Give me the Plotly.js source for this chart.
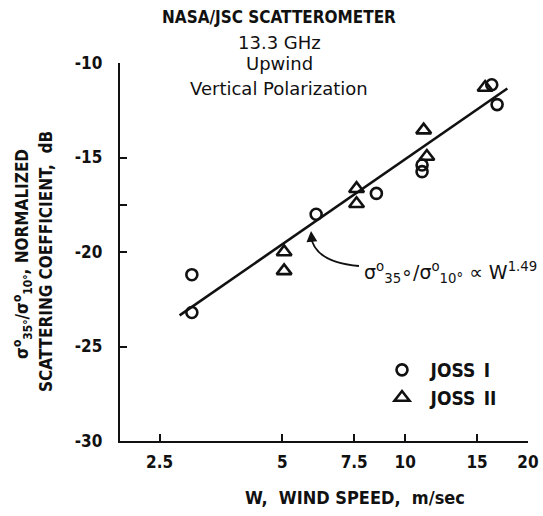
<!DOCTYPE html>
<html>
<head>
<meta charset="utf-8">
<script src="https://cdn.plot.ly/plotly-3.0.1.min.js"></script>
<style>
  html, body { margin: 0; padding: 0; background: #fff; }
  #chart { width: 543px; height: 516px; }
</style>
</head>
<body>
<div id="chart"></div>
<script>
// Wind speed (m/sec) and normalized scattering coefficient ratio (dB)
const joss1W = [3.0, 3.0, 6.05, 8.5, 11.0, 11.0, 16.3, 16.8];
const joss1S = [-21.2, -23.2, -18.0, -16.9, -15.4, -15.75, -11.15, -12.2];
const joss2W = [5.05, 5.05, 7.6, 7.6, 11.1, 11.3, 15.7];
const joss2S = [-20.0, -21.0, -16.65, -17.45, -13.55, -14.95, -11.3];

// Power-law fit, sigma35/sigma10 ~ W^1.49 (end points of the drawn line)
const fitW = [2.8, 17.8];
const fitS = [-23.35, -11.35];

const xTickVals = [2.5, 5, 7.5, 10, 15, 20];
const xTickText = ['2.5', '5', '7.5', '10', '15', '20'];
const yTickVals = [-30, -25, -20, -17.5, -15, -10];
const yTickText = ['-30', '-25', '-20', '', '-15', '-10'];

const COND = 'DejaVu Sans Condensed, DejaVu Sans, sans-serif';
const WIDE = 'DejaVu Sans, sans-serif';
const INK = '#111';

const traces = [
  {
    x: fitW, y: fitS, type: 'scatter', mode: 'lines',
    line: { color: INK, width: 2.6 },
    showlegend: false, hoverinfo: 'skip'
  },
  {
    x: joss1W, y: joss1S, type: 'scatter', mode: 'markers',
    name: '\u2002JOSS\u2002I', legendgroup: 'a',
    marker: { symbol: 'circle-open', size: 11, color: INK, line: { width: 2.6, color: INK } }
  },
  {
    x: joss2W, y: joss2S, type: 'scatter', mode: 'markers',
    name: '\u2002JOSS\u2002II', legendgroup: 'b',
    marker: { symbol: 'triangle-up-open', size: 13, color: INK, line: { width: 2.6, color: INK } }
  }
];

// paper-coordinate helpers for the plot box (120..528 px wide, 63..441 px tall)
const px = v => (v - 120) / 408;
const py = v => (441 - v) / 378;

const titleLines = [
  ['NASA/JSC SCATTEROMETER', 17, { family: COND, size: 17, weight: 'bold', color: INK }],
  ['13.3 GHz', 43, { family: WIDE, size: 18, color: INK }],
  ['Upwind', 63, { family: WIDE, size: 18, color: INK }],
  ['Vertical Polarization', 88, { family: WIDE, size: 18, color: INK }]
];

const annotations = titleLines.map(([t, y, f]) => ({
  text: t, xref: 'paper', yref: 'paper', x: px(279), y: py(y),
  xanchor: 'center', yanchor: 'middle', showarrow: false, font: f
}));

annotations.push(
  {
    text: 'W,  WIND SPEED,  m/sec', xref: 'paper', yref: 'paper',
    x: px(355), y: py(498), xanchor: 'center', yanchor: 'middle', showarrow: false,
    font: { family: COND, size: 18, weight: 'bold', color: INK }
  },
  {
    text: 'σ<sup>o</sup><sub>35°</sub>/σ<sup>o</sup><sub>10°</sub>, NORMALIZED',
    xref: 'paper', yref: 'paper', x: px(22), y: py(254), textangle: -90,
    xanchor: 'center', yanchor: 'middle', showarrow: false,
    font: { family: COND, size: 17, weight: 'bold', color: INK }
  },
  {
    text: 'SCATTERING COEFFICIENT,  dB',
    xref: 'paper', yref: 'paper', x: px(46), y: py(262), textangle: -90,
    xanchor: 'center', yanchor: 'middle', showarrow: false,
    font: { family: COND, size: 17, weight: 'bold', color: INK }
  },
  {
    text: 'σ<sup>o</sup><sub>35</sub>∘/σ<sup>o</sup><sub>10°</sub> ∝ W<sup>1.49</sup>',
    xref: 'paper', yref: 'paper', x: px(362), y: py(272),
    xanchor: 'left', yanchor: 'middle', showarrow: false,
    font: { family: WIDE, size: 19, color: INK }
  },
  {
    // arrow head of the callout pointing at the fit line
    text: '', xref: 'paper', yref: 'paper', x: px(311), y: py(231),
    showarrow: true, ax: 1, ay: 12, arrowhead: 2, arrowsize: 1.2,
    arrowwidth: 1.8, arrowcolor: INK, standoff: 0
  }
);

const shapes = [
  {
    type: 'path', xref: 'paper', yref: 'paper',
    path: `M ${px(311)},${py(236)} Q ${px(314)},${py(262)} ${px(359)},${py(266)}`,
    line: { color: INK, width: 1.8 }
  }
];

const layout = {
  width: 543, height: 516,
  margin: { l: 120, r: 15, t: 63, b: 75 },
  paper_bgcolor: '#fff', plot_bgcolor: '#fff',
  font: { family: COND, size: 16, color: INK },
  showlegend: true,
  legend: {
    x: px(382), y: py(351), xanchor: 'left', yanchor: 'top',
    bgcolor: 'rgba(0,0,0,0)', borderwidth: 0, tracegroupgap: 0,
    font: { family: COND, size: 19, weight: 'bold', color: INK }
  },
  xaxis: {
    type: 'log', range: [Math.log10(2), Math.log10(20)],
    tickmode: 'array', tickvals: xTickVals, ticktext: xTickText,
    ticks: 'inside', ticklen: 7, tickwidth: 2, tickcolor: INK,
    showline: true, linecolor: INK, linewidth: 2.2, mirror: false,
    showgrid: false, zeroline: false, ticklabelstandoff: 4,
    tickfont: { family: COND, size: 17, weight: 'bold', color: INK }
  },
  yaxis: {
    range: [-30, -10],
    tickmode: 'array', tickvals: yTickVals, ticktext: yTickText,
    ticks: 'inside', ticklen: 7, tickwidth: 2, tickcolor: INK,
    showline: true, linecolor: INK, linewidth: 2.2, mirror: false,
    showgrid: false, zeroline: false, ticklabelstandoff: 12,
    tickfont: { family: COND, size: 17, weight: 'bold', color: INK }
  },
  annotations: annotations,
  shapes: shapes
};

Plotly.newPlot('chart', traces, layout, { displayModeBar: false, staticPlot: true });
</script>
</body>
</html>
